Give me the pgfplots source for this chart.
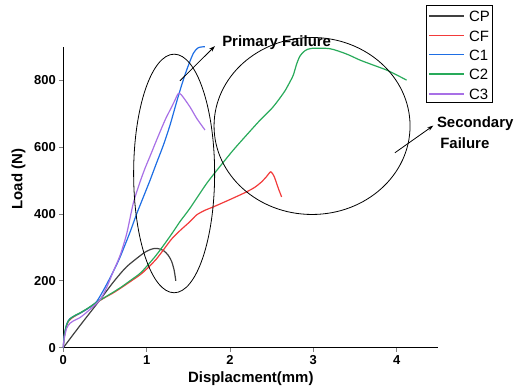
\documentclass[border=0pt]{standalone}
\usepackage{pgfplots}
\pgfplotsset{compat=1.18}
\usepackage{fontspec}
\setmainfont{Liberation Sans}
\usetikzlibrary{arrows.meta}

\definecolor{cCP}{RGB}{64,64,64}
\definecolor{cCF}{RGB}{242,58,58}
\definecolor{cCA}{RGB}{30,110,228}
\definecolor{cCB}{RGB}{40,170,90}
\definecolor{cCC}{RGB}{168,112,230}

\begin{document}
\begin{tikzpicture}
\begin{axis}[
  at={(0,0)}, anchor=south west,
  scale only axis, width=375bp, height=301bp,
  xmin=0, xmax=4.5, ymin=0, ymax=900,
  axis x line=bottom, axis y line=left,
  axis line style={-, line width=0.8bp},
  xtick={0,1,2,3,4}, ytick={0,200,400,600,800},
  tick align=outside, major tick length=4bp,
  every tick/.append style={line width=0.8bp},
  /pgf/number format/assume math mode=true,
  ticklabel style={font=\fontsize{13}{15}\selectfont\bfseries},
  xlabel={Displacment(mm)}, ylabel={Load (N)},
  label style={font=\fontsize{15}{18}\selectfont\bfseries},
  xlabel style={at={(axis description cs:0.5,-0.102)}, anchor=center},
  ylabel style={at={(axis description cs:-0.1195,0.56)}, anchor=center},
  clip=false,
  curve/.style={draw=#1, line width=1.2bp, smooth, tension=0.45},
]
% CP
\addplot[curve=cCP] coordinates {
 (0,0) (0.2,66) (0.44,143) (0.6,196) (0.76,242) (0.96,282) (1.05,294)
 (1.12,297) (1.2,291) (1.26,276) (1.3,258) (1.33,232) (1.35,200)};
% CF
\addplot[curve=cCF] coordinates {
 (0,0) (0.01,30) (0.03,58) (0.06,78) (0.1,88) (0.15,96) (0.2,103) (0.3,118)
 (0.4,135) (0.5,150) (0.6,164) (0.7,180) (0.8,197) (0.9,214) (0.96,226)
 (1.04,245) (1.12,266) (1.2,292) (1.3,325) (1.4,350) (1.52,377) (1.6,397)
 (1.7,411) (1.8,421) (2.0,443) (2.2,466) (2.3,480) (2.38,496) (2.44,512)
 (2.49,526) (2.53,512) (2.56,491) (2.59,470) (2.62,451)};
% C1
\addplot[curve=cCA] coordinates {
 (0,0) (0.01,35) (0.04,70) (0.08,87) (0.15,97) (0.2,103) (0.3,118) (0.4,138)
 (0.5,180) (0.6,228) (0.68,270) (0.8,345) (0.88,400) (0.96,450) (1.04,500)
 (1.12,553) (1.2,605) (1.28,665) (1.36,735) (1.42,785) (1.48,830) (1.56,880)
 (1.62,897) (1.7,900)};
% C2
\addplot[curve=cCB] coordinates {
 (0,0) (0.01,30) (0.03,60) (0.06,80) (0.1,90) (0.15,98) (0.2,104) (0.3,119)
 (0.4,136) (0.5,151) (0.6,166) (0.7,182) (0.8,200) (0.9,218) (0.96,232)
 (1.1,272) (1.2,305) (1.3,340) (1.4,377) (1.52,417) (1.72,491) (1.88,542)
 (2.04,591) (2.2,636) (2.36,680) (2.5,715) (2.58,740) (2.66,768) (2.72,795)
 (2.76,815) (2.8,848) (2.84,872) (2.9,888) (2.98,895) (3.2,894) (3.4,878)
 (3.56,860) (3.72,845) (3.9,828) (4.12,800)};
% C3
\addplot[curve=cCC] coordinates {
 (0,0) (0.01,25) (0.04,58) (0.08,73) (0.12,80) (0.2,90) (0.3,110) (0.44,143)
 (0.52,180) (0.6,228) (0.68,275) (0.76,340) (0.84,432) (0.92,495) (0.98,536)
 (1.04,572) (1.12,621) (1.22,680) (1.28,710) (1.33,735) (1.38,760) (1.42,755)
 (1.52,720) (1.6,686) (1.7,651)};

% failure regions
\draw[line width=0.8bp] (axis cs:1.33,521) ellipse [x radius=40.5bp, y radius=119.3bp];
\draw[line width=0.8bp] (axis cs:2.985,663) ellipse [x radius=98bp, y radius=88.5bp];
\draw[line width=0.8bp, -{Stealth[length=6bp, width=4bp]}] (axis cs:1.40,798) -- (axis cs:1.82,902);
\draw[line width=0.8bp, -{Stealth[length=6bp, width=4bp]}] (axis cs:3.98,583) -- (axis cs:4.44,664);
\node[anchor=west, inner sep=0pt, font=\fontsize{15}{18}\selectfont\bfseries]
  at (axis cs:1.905,911) {Primary Failure};
\node[anchor=west, inner sep=0pt, font=\fontsize{15}{18}\selectfont\bfseries]
  at (axis cs:4.482,669) {Secondary};
\node[anchor=west, inner sep=0pt, font=\fontsize{15}{18}\selectfont\bfseries]
  at (axis cs:4.522,613) {Failure};
\end{axis}
% key box for the five specimens, right of the plot area
\draw[line width=0.8bp, fill=white] (363.4bp,245bp) rectangle (429bp,342.7bp);
\foreach \c/\t/\y in {cCP/CP/331.7, cCF/CF/312, cCA/C1/293, cCB/C2/273.7, cCC/C3/253.7}{
  \draw[\c, line width=1.2bp] (366bp,\y bp) -- (400.7bp,\y bp);
  \node[anchor=west, inner sep=0pt, text height=10.7bp, text depth=0pt,
        font=\fontsize{15}{18}\selectfont] at (405.5bp,\y bp) {\t};
}
% page frame around the axis box (origin of the axis at (0,0))
\useasboundingbox (-63.3bp,-44.3bp) rectangle (451.7bp,347.7bp);
\end{tikzpicture}
\end{document}
